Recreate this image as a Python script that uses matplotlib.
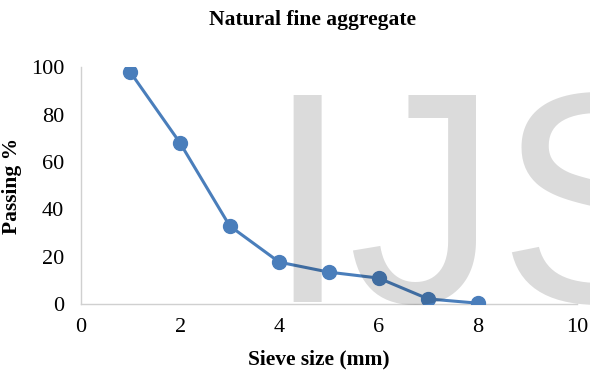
import matplotlib
matplotlib.use("Agg")
import matplotlib.pyplot as plt

# sieve analysis, natural fine aggregate
sieve_size = [1, 2, 3, 4, 5, 6, 7, 8]
passing = [97.8, 68, 33, 17.7, 13.5, 11, 2.2, 0.4]
x_ticks = [0, 2, 4, 6, 8, 10]
y_ticks = [0, 20, 40, 60, 80, 100]

plt.rcParams['font.family'] = ['Liberation Serif', 'DejaVu Serif']

fig = plt.figure(figsize=(5.9, 3.75), dpi=100)
ax = fig.add_axes([0.137, 0.189, 0.841, 0.632])

ax.plot(sieve_size, passing, color='#4a7ebb', linewidth=2.2,
        marker='o', markersize=10, zorder=3)

ax.set_xlim(0, 10)
ax.set_ylim(0, 100)
ax.set_xticks(x_ticks)
ax.set_yticks(y_ticks)
ax.tick_params(length=0, labelsize=16)
ax.tick_params(axis='x', pad=10)
ax.tick_params(axis='y', pad=12)
for side in ['top', 'right']:
    ax.spines[side].set_visible(False)
for side in ['left', 'bottom']:
    ax.spines[side].set_color('#d0d0d0')
    ax.spines[side].set_linewidth(1)

ax.set_title('Natural fine aggregate', fontsize=15.5, fontweight='bold',
             pad=30, x=0.466)
ax.set_xlabel('Sieve size (mm)', fontsize=15.5, fontweight='bold', labelpad=10)
ax.xaxis.set_label_coords(0.48, -0.19)
ax.set_ylabel('Passing %', fontsize=15.5, fontweight='bold', labelpad=6)

# watermark on top, semi-transparent
fig.text(265 / 590, 1 - 302 / 375, 'IJS', fontsize=216, family='Liberation Sans',
         color='black', alpha=0.14, ha='left', va='baseline', zorder=10)

fig.savefig('out.png', dpi=100)
